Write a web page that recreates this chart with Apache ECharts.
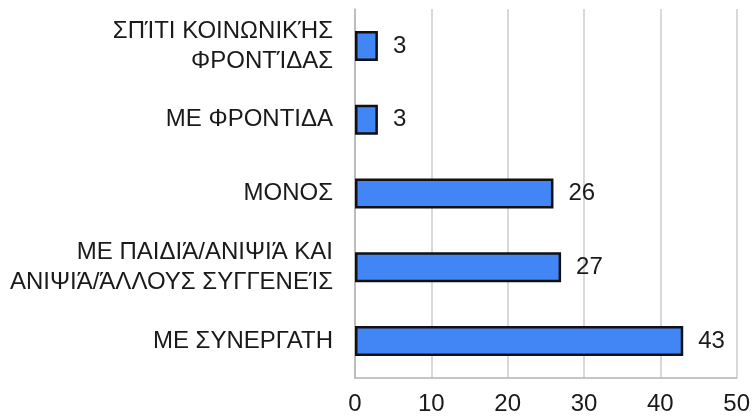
<!DOCTYPE html>
<html>
<head>
<meta charset="utf-8">
<script src="https://cdn.jsdelivr.net/npm/echarts@6/dist/echarts.min.js"></script>
<style>
  html, body { margin: 0; padding: 0; background: #fff; }
  #chart { width: 753px; height: 418px; }
</style>
</head>
<body>
<div id="chart"></div>
<script>
const categories = [
  'ΣΠΊΤΙ ΚΟΙΝΩΝΙΚΉΣ\nΦΡΟΝΤΊΔΑΣ',
  'ΜΕ ΦΡΟΝΤΙΔΑ',
  'ΜΟΝΟΣ',
  'ΜΕ ΠΑΙΔΙΆ/ΑΝΙΨΙΆ ΚΑΙ\nΑΝΙΨΙΆ/ΆΛΛΟΥΣ ΣΥΓΓΕΝΕΊΣ',
  'ΜΕ ΣΥΝΕΡΓΑΤΗ'
]
const values = [3, 3, 26, 27, 43]

const font = 'Liberation Sans, Arial, sans-serif'
const chart = echarts.init(document.getElementById('chart'), null, { renderer: 'canvas' })

chart.setOption({
  animation: false,
  backgroundColor: '#ffffff',
  grid: { left: 355, right: 15, top: 9, bottom: 40 },
  xAxis: {
    type: 'value',
    min: 0,
    max: 50,
    interval: 10,
    axisLine: { show: true, lineStyle: { color: '#b3b3b3', width: 1.5 } },
    axisTick: { show: false },
    axisLabel: { color: '#1a1a1a', fontSize: 24, fontFamily: font, margin: 14 },
    splitLine: { lineStyle: { color: '#cccccc', width: 1.5 } }
  },
  yAxis: {
    type: 'category',
    data: categories,
    inverse: true,
    axisLine: { show: true, lineStyle: { color: '#b3b3b3', width: 1.5 } },
    axisTick: { show: false },
    axisLabel: {
      color: '#1a1a1a', fontSize: 24, fontFamily: font,
      margin: 22, lineHeight: 30, align: 'right'
    }
  },
  series: [{
    type: 'bar',
    data: values,
    barWidth: 30,
    itemStyle: { color: '#4285f4', borderColor: '#111', borderWidth: 2.5 },
    label: {
      show: true, position: 'right', distance: 15,
      color: '#1a1a1a', fontSize: 24, fontFamily: font
    }
  }]
})
</script>
</body>
</html>
